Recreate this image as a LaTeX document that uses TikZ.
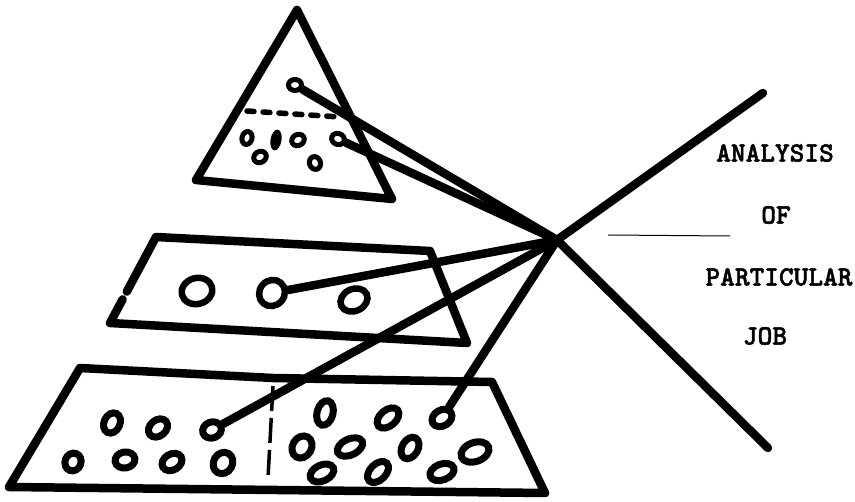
\documentclass[tikz,border=0pt]{standalone}
\usepackage{fontspec}
\newfontfamily\jobfont{lmmonolt10-bold.otf}[FakeBold=1.6]
\usetikzlibrary{shapes.geometric}
\tikzset{
  outline/.style   = {line width=8.5pt, line join=round, line cap=round},
  spoke/.style     = {line width=8.5pt, line cap=round, line join=round},
  divider/.style   = {line width=5.5pt, line cap=round, dash pattern=on 7pt off 9pt},
  worker/.style    = {ellipse, draw, inner sep=0pt, line width=7pt,
                      minimum width=21pt, minimum height=16pt},
  chief/.style     = {ellipse, draw, inner sep=0pt, line width=5pt,
                      minimum width=13pt, minimum height=11pt},
  foreman/.style   = {ellipse, draw, inner sep=0pt, line width=6.5pt,
                      minimum width=31pt, minimum height=26pt},
  jobtext/.style   = {font=\jobfont\fontsize{28}{32}\selectfont, inner sep=0pt},
}

\begin{document}
\begin{tikzpicture}[x=1pt,y=-1pt]
  \useasboundingbox (0,0) rectangle (855,502);

  % top level
  \draw[outline] (297,10) -- (392,199) -- (196,180) -- cycle;
  \draw[divider] (247,111) -- (340,117);
  \node[chief] (t1) at (295,85) {};
  \node[chief, minimum width=10pt, minimum height=13pt, rotate=-15] (t2) at (247,138) {};
  \node[ellipse, fill, inner sep=0pt, minimum width=11pt, minimum height=21pt, rotate=-10] (t3) at (276,140) {};
  \node[chief, rotate=30] (t4) at (298,140) {};
  \node[chief, rotate=-20] (t5) at (338,139) {};
  \node[chief, rotate=30] (t6) at (260,157) {};
  \node[chief, minimum width=11pt, minimum height=13pt, rotate=20] (t7) at (315,163) {};

  % middle level
  \draw[outline] (122.6,299.4) -- (110,323) -- (467,343) -- (430,251) -- (156,237) -- (126.8,291.6);
  \node[foreman, rotate=15] (m1) at (197,291) {};
  \node[foreman, minimum width=27pt, minimum height=25pt, rotate=50] (m2) at (272,293) {};
  \node[foreman, minimum width=28pt, minimum height=22pt, rotate=25] (m3) at (354,300) {};

  % bottom level
  \draw[outline] (80,368) -- (273,378) -- (492,382) -- (545,493) -- (9,487) -- cycle;
  \draw[line width=3.5pt, dash pattern=on 25pt off 7pt] (273,386) -- (268,478);
  \node[worker, rotate=65] (b1) at (112,423) {};
  \node[worker, rotate=40] (b2) at (158,428) {};
  \node[worker, minimum width=19pt, rotate=20] (b3) at (212,430) {};
  \node[worker, minimum width=18pt, rotate=70] (b4) at (73,462) {};
  \node[worker, minimum width=20pt, rotate=10] (b5) at (125,460) {};
  \node[worker, rotate=30] (b6) at (172,462) {};
  \node[worker, minimum width=22pt, minimum height=19pt, rotate=60] (b7) at (223,463) {};
  \node[worker, minimum width=25pt, rotate=75] (b8) at (325,413) {};
  \node[worker, minimum width=25pt, rotate=40] (b9) at (388,418) {};
  \node[worker, rotate=30] (b10) at (442,418) {};
  \node[worker, minimum width=23pt, minimum height=19pt, rotate=60] (b11) at (302,447) {};
  \node[worker, minimum width=27pt, rotate=25] (b12) at (350,447) {};
  \node[worker, minimum width=23pt, rotate=60] (b13) at (410,448) {};
  \node[worker, minimum width=29pt, minimum height=19pt, rotate=20] (b14) at (475,452) {};
  \node[worker, minimum width=25pt, rotate=25] (b15) at (322,473) {};
  \node[worker, minimum width=25pt, rotate=45] (b16) at (378,472) {};
  \node[worker, minimum width=25pt, rotate=20] (b17) at (442,472) {};

  % job analysis
  \coordinate (hub) at (557,240);
  \coordinate (ne) at (763,93);
  \coordinate (se) at (768,448);
  \draw[spoke] (ne) -- (hub) -- (se);
  \draw[spoke] (t1) -- (hub);
  \draw[spoke] (t5) -- (hub);
  \draw[spoke] (m2) -- (hub);
  \draw[spoke] (b3) -- (hub);
  \draw[spoke] (b10) -- (hub);
  \draw[line width=1pt] (608,235) -- (730,236);

  \node[jobtext] (analysis) at (775,153) {ANALYSIS};
  \node[jobtext] (of) at (776,215) {OF};
  \node[jobtext] (particular) at (779,277) {PARTICULAR};
  \node[jobtext] (job) at (765,336) {JOB};
\end{tikzpicture}
\end{document}
